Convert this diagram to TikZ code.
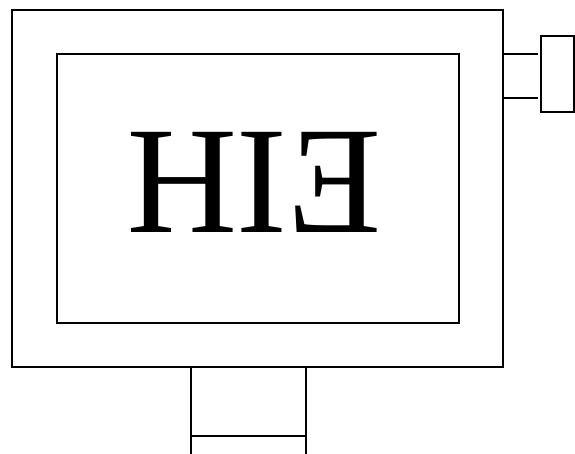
\documentclass[tikz,border=0pt]{standalone}
\usepackage{fontspec}
\setmainfont{Liberation Serif}
\usepackage{tikz}

\begin{document}
\begin{tikzpicture}[x=1pt,y=-1pt,line width=1.2pt]
\useasboundingbox (0,0) rectangle (575,454);
\draw (12,10) --(503,10) --(503,367) --(12,367) --cycle;
\draw (57,54) --(459,54) --(459,323) --(57,323) --cycle;
\node[xscale=-1, inner sep=0pt, font=\fontsize{153}{153}\selectfont] (lbl) at (254,182) {EIH};

\draw (503,54) to (538,54);
\draw (503,98) to (538,98);
\draw (541,36) --(574,36) --(574,112) --(541,112) --cycle;

\draw (191,367) to (191,454);
\draw (306,367) to (306,454);
\draw (191,436) to (306,436);
\end{tikzpicture}
\end{document}
